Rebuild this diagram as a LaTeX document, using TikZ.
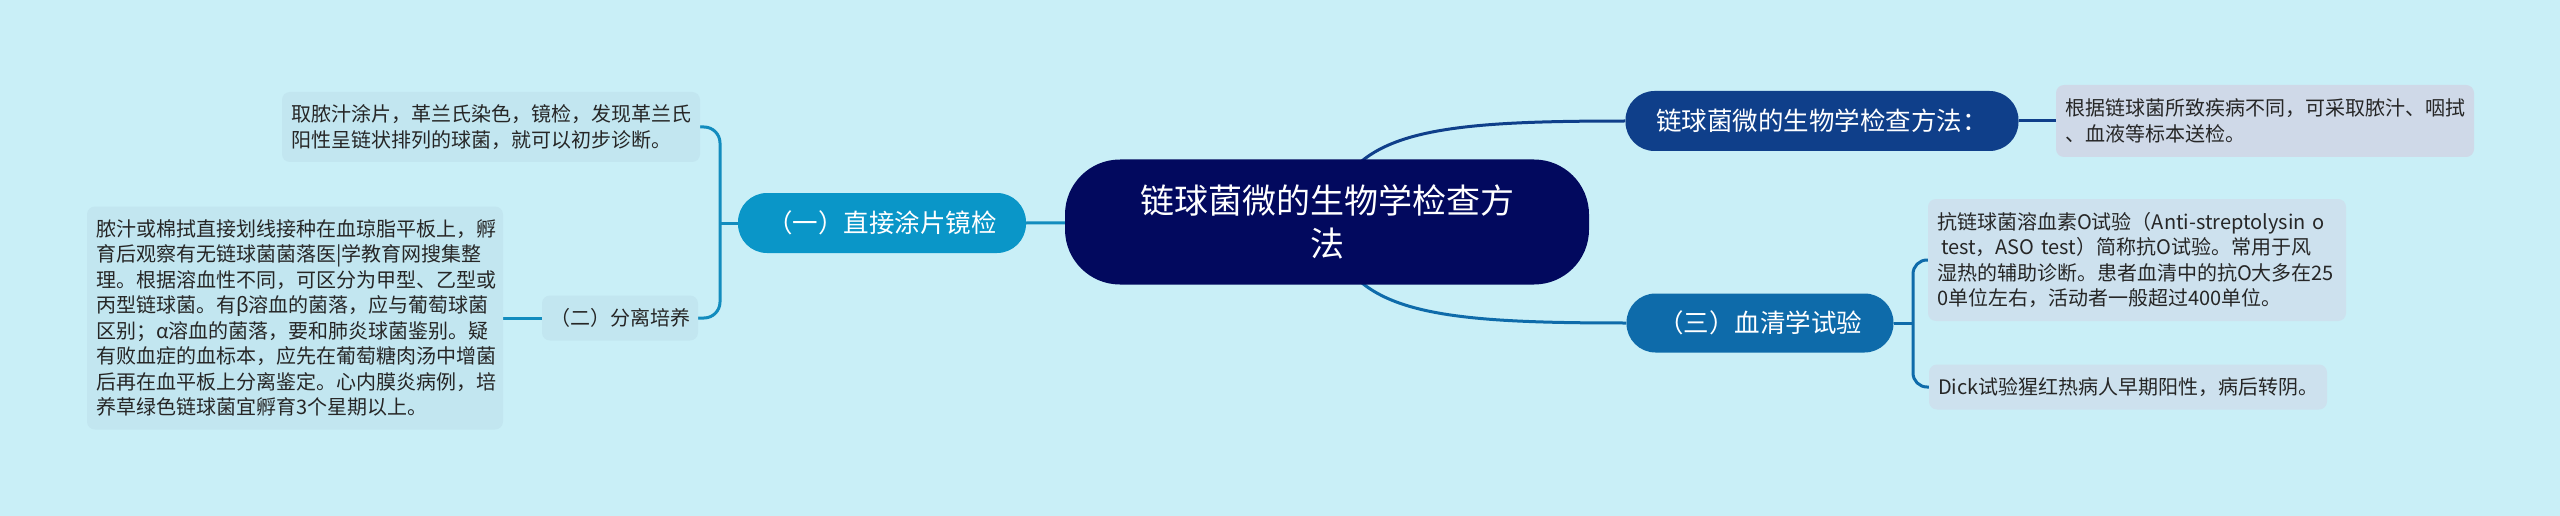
\documentclass[tikz,border=0pt]{standalone}
\usepackage{fontspec}
\setmainfont{Noto Sans CJK SC}
\usetikzlibrary{positioning}
\usetikzlibrary{backgrounds}

\definecolor{bgcol}{RGB}{201,239,247}
\definecolor{rootcol}{RGB}{2,9,94}
\definecolor{navycol}{RGB}{15,63,138}
\definecolor{tealcol}{RGB}{10,150,200}
\definecolor{tealline}{RGB}{18,140,190}
\definecolor{bluecol}{RGB}{14,107,170}
\definecolor{leafA}{RGB}{194,230,240}
\definecolor{leafB}{RGB}{205,225,238}
\definecolor{leafC}{RGB}{207,217,232}
\definecolor{txtcol}{RGB}{38,38,38}

\begin{document}
\begin{tikzpicture}[x=1pt,y=-1pt,
  leaf/.style={rounded corners=8pt, text=txtcol, align=left, inner xsep=9pt, inner ysep=4pt,
    font=\fontsize{20}{25.5}\selectfont},
  branch/.style={rounded corners=29pt, text=white, inner sep=0pt, minimum height=60pt,
    font=\fontsize{25.5}{30}\selectfont},
  link/.style={line width=3pt}]

  % canvas
  \useasboundingbox (0,0) rectangle (2560,516);

  % central topic
  \node[fill=rootcol, text=white, rounded corners=55pt, minimum width=524pt, minimum height=125pt,
    inner sep=0pt, align=center, font=\fontsize{34}{43}\selectfont] (root) at (1327,222)
    {链球菌微的生物学检查方\\法};

  % main branches
  \node[branch, fill=tealcol, minimum width=288pt] (b1) at (882,223) {（一）直接涂片镜检};
  \node[branch, fill=navycol, minimum width=393pt] (b0) at (1822,121) {链球菌微的生物学检查方法：};
  \node[branch, fill=bluecol, minimum width=267pt, minimum height=59pt] (b3) at (1760,323) {（三）血清学试验};

  % left side
  \node[leaf, fill=leafA, text width=400pt, minimum height=70pt] (l1) at (491,127)
    {取脓汁涂片，革兰氏染色，镜检，发现革兰氏\\阳性呈链状排列的球菌，就可以初步诊断。};
  \node[leaf, fill=leafA, align=center, minimum width=156pt, minimum height=45pt, inner xsep=0pt] (b2) at (620,318)
    {（二）分离培养};
  \node[leaf, fill=leafA, text width=398pt, minimum height=223pt] (l2) at (295,318)
    {脓汁或棉拭直接划线接种在血琼脂平板上，孵\\
     育后观察有无链球菌菌落医|学教育网搜集整\\
     理。根据溶血性不同，可区分为甲型、乙型或\\
     丙型链球菌。有β溶血的菌落，应与葡萄球菌\\
     区别；α溶血的菌落，要和肺炎球菌鉴别。疑\\
     有败血症的血标本，应先在葡萄糖肉汤中增菌\\
     后再在血平板上分离鉴定。心内膜炎病例，培\\
     养草绿色链球菌宜孵育3个星期以上。};

  % right side
  \node[leaf, fill=leafC, text width=400pt, minimum height=72pt] (l0) at (2265,121)
    {根据链球菌所致疾病不同，可采取脓汁、咽拭\\、血液等标本送检。};
  \node[leaf, fill=leafB, text width=400pt, minimum height=122pt] (l3) at (2137,260)
    {抗链球菌溶血素O试验（Anti-streptolysin o\\
     \hspace*{4pt}test，ASO test）简称抗O试验。常用于风\\
     湿热的辅助诊断。患者血清中的抗O大多在25\\
     0单位左右，活动者一般超过400单位。};
  \node[leaf, fill=leafB, text width=380pt, minimum height=45pt] (l4) at (2128,387)
    {Dick试验猩红热病人早期阳性，病后转阴。};

  \coordinate (s1) at (720,223);
  \coordinate (s3) at (1913,323);

  \begin{scope}[on background layer]
    \fill[bgcol] (0,0) rectangle (2560,516);
    % connectors from the centre
    \draw[link, tealline] (root) -- (b1.east);
    \draw[link, navycol] (root.center) .. controls +(20,-90) and +(-200,0) .. (b0.west);
    \draw[link, bluecol] (root.center) .. controls +(20,90) and +(-200,0) .. (b3.west);
    \draw[link, navycol] (b0.east) -- (l0.west);
    % brackets
    \draw[link, tealline] (b1.west) -- (s1);
    \draw[link, tealline, rounded corners=16pt] (l1.east) -| (s1) |- (b2.east);
    \draw[link, tealline] (l2.east) -- (b2.west);
    \draw[link, bluecol] (b3.east) -- (s3);
    \draw[link, bluecol, rounded corners=14pt] (l3.west) -| (s3) |- (l4.west);
  \end{scope}
\end{tikzpicture}
\end{document}
